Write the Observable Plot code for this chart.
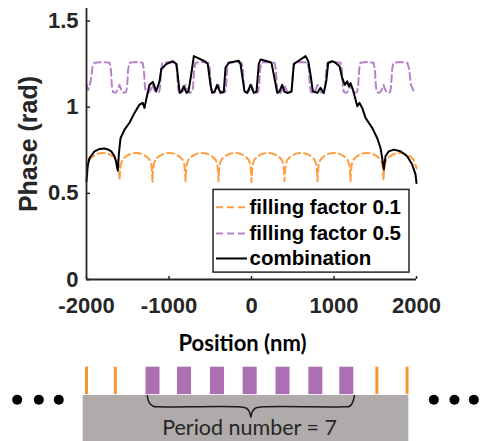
<!DOCTYPE html>
<html><head><meta charset="utf-8">
<script src="https://cdn.jsdelivr.net/npm/d3@7"></script>
<script src="https://cdn.jsdelivr.net/npm/@observablehq/plot@0.6"></script>
<style>
body{margin:0;background:#fff;}
#chart{width:482px;height:441px;overflow:hidden;}
#chart svg{display:block;}
</style></head><body><div id="chart"></div>
<script>
// ---------- data (position in nm, phase in rad) ----------
const fillingFactor01 = [
[-2000,0.63],[-1985,0.67],[-1965,0.695],[-1940,0.708],[-1900,0.722],[-1850,0.732],[-1800,0.735],[-1750,0.732],[-1700,0.722],[-1660,0.708],[-1635,0.695],[-1615,0.67],[-1605,0.62],
[-1600,0.575],[-1595,0.62],[-1585,0.67],[-1565,0.695],[-1540,0.708],[-1500,0.722],[-1450,0.732],[-1400,0.735],[-1350,0.732],[-1300,0.722],[-1260,0.708],[-1235,0.695],[-1215,0.67],[-1205,0.62],
[-1200,0.565],[-1195,0.62],[-1185,0.67],[-1165,0.695],[-1140,0.708],[-1100,0.722],[-1050,0.732],[-1000,0.735],[-950,0.732],[-900,0.722],[-860,0.708],[-835,0.695],[-815,0.67],[-805,0.62],
[-800,0.57],[-795,0.62],[-785,0.67],[-765,0.695],[-740,0.708],[-700,0.722],[-650,0.732],[-600,0.735],[-550,0.732],[-500,0.722],[-460,0.708],[-435,0.695],[-415,0.67],[-405,0.62],
[-400,0.57],[-395,0.62],[-385,0.67],[-365,0.695],[-340,0.708],[-300,0.722],[-250,0.732],[-200,0.735],[-150,0.732],[-100,0.722],[-60,0.708],[-35,0.695],[-15,0.67],[-5,0.62],
[0,0.565],[5,0.62],[15,0.67],[35,0.695],[60,0.708],[100,0.722],[150,0.732],[200,0.735],[250,0.732],[300,0.722],[340,0.708],[365,0.695],[385,0.67],[395,0.62],
[400,0.57],[405,0.62],[415,0.67],[435,0.695],[460,0.708],[500,0.722],[550,0.732],[600,0.735],[650,0.732],[700,0.722],[740,0.708],[765,0.695],[785,0.67],[795,0.62],
[800,0.57],[805,0.62],[815,0.67],[835,0.695],[860,0.708],[900,0.722],[950,0.732],[1000,0.735],[1050,0.732],[1100,0.722],[1140,0.708],[1165,0.695],[1185,0.67],[1195,0.62],
[1200,0.57],[1205,0.62],[1215,0.67],[1235,0.695],[1260,0.708],[1300,0.722],[1350,0.732],[1400,0.735],[1450,0.732],[1500,0.722],[1540,0.708],[1565,0.695],[1585,0.67],[1595,0.62],
[1600,0.575],[1605,0.62],[1615,0.67],[1635,0.695],[1660,0.708],[1700,0.722],[1750,0.732],[1800,0.735],[1850,0.732],[1900,0.722],[1940,0.708],[1965,0.695],[1985,0.67],[2000,0.645]
];

const fillingFactor05 = [
[-2000,1.13],[-1978,1.10],[-1950,1.15],[-1925,1.24],[-1905,1.258],[-1800,1.262],[-1720,1.258],[-1705,1.22],[-1692,1.12],[-1680,1.088],[-1650,1.083],[-1622,1.10],
[-1600,1.13],[-1578,1.10],[-1550,1.083],[-1520,1.088],[-1508,1.12],[-1495,1.22],[-1480,1.258],[-1400,1.262],[-1320,1.258],[-1305,1.22],[-1292,1.12],[-1280,1.088],[-1250,1.083],[-1222,1.10],
[-1200,1.13],[-1178,1.10],[-1150,1.083],[-1120,1.088],[-1108,1.12],[-1095,1.22],[-1080,1.258],[-1000,1.262],[-920,1.258],[-905,1.22],[-892,1.12],[-880,1.088],[-850,1.083],[-822,1.10],
[-800,1.13],[-778,1.10],[-750,1.083],[-720,1.088],[-708,1.12],[-695,1.22],[-680,1.258],[-600,1.262],[-520,1.258],[-505,1.22],[-492,1.12],[-480,1.088],[-450,1.083],[-422,1.10],
[-400,1.13],[-378,1.10],[-350,1.083],[-320,1.088],[-308,1.12],[-295,1.22],[-280,1.258],[-200,1.262],[-120,1.258],[-105,1.22],[-92,1.12],[-80,1.088],[-50,1.083],[-22,1.10],
[0,1.13],[22,1.10],[50,1.083],[80,1.088],[92,1.12],[105,1.22],[120,1.258],[200,1.262],[280,1.258],[295,1.22],[308,1.12],[320,1.088],[350,1.083],[378,1.10],
[400,1.13],[422,1.10],[450,1.083],[480,1.088],[492,1.12],[505,1.22],[520,1.258],[600,1.262],[680,1.258],[695,1.22],[708,1.12],[720,1.088],[750,1.083],[778,1.10],
[800,1.13],[822,1.10],[850,1.083],[880,1.088],[892,1.12],[905,1.22],[920,1.258],[1000,1.262],[1080,1.258],[1095,1.22],[1108,1.12],[1120,1.088],[1150,1.083],[1178,1.10],
[1200,1.13],[1222,1.10],[1250,1.083],[1280,1.088],[1292,1.12],[1305,1.22],[1320,1.258],[1400,1.262],[1480,1.258],[1495,1.22],[1508,1.12],[1520,1.088],[1550,1.083],[1578,1.10],
[1600,1.13],[1622,1.10],[1650,1.083],[1680,1.088],[1692,1.12],[1705,1.22],[1720,1.258],[1800,1.262],[1890,1.258],[1912,1.22],[1932,1.13],[1958,1.10],[2000,1.085]
];

const combination = [
[-2000,0.57],[-1985,0.66],[-1964,0.705],[-1903,0.744],[-1840,0.758],[-1782,0.76],[-1740,0.755],[-1700,0.744],[-1661,0.715],[-1640,0.68],[-1628,0.647],[-1620,0.632],
[-1608,0.727],[-1588,0.82],[-1539,0.87],[-1479,0.91],[-1418,0.967],[-1358,1.015],[-1318,1.025],[-1297,0.996],[-1276,1.045],[-1236,1.13],[-1196,1.147],[-1155,1.093],
[-1115,1.15],[-1094,1.22],[-1034,1.25],[-954,1.267],[-909,1.25],[-881,1.13],[-869,1.083],[-848,1.09],[-821,1.122],[-788,1.083],[-764,1.09],[-731,1.19],
[-699,1.297],[-658,1.288],[-558,1.264],[-530,1.25],[-497,1.13],[-476,1.083],[-448,1.09],[-416,1.13],[-376,1.083],[-336,1.09],[-315,1.23],[-275,1.258],
[-154,1.27],[-133,1.25],[-85,1.093],[-52,1.083],[-12,1.13],[28,1.083],[61,1.09],[88,1.25],[109,1.277],[210,1.264],[242,1.258],[270,1.19],
[312,1.083],[339,1.09],[372,1.13],[400,1.09],[433,1.083],[485,1.09],[513,1.25],[554,1.264],[655,1.297],[688,1.267],[715,1.19],[743,1.093],
[797,1.083],[836,1.113],[876,1.083],[906,1.15],[930,1.258],[978,1.267],[1018,1.258],[1067,1.238],[1099,1.17],[1131,1.13],[1160,1.15],[1182,1.12],
[1200,1.14],[1224,1.11],[1261,1.045],[1282,1.006],[1309,1.025],[1342,0.996],[1382,0.938],[1463,0.88],[1524,0.82],[1564,0.763],[1584,0.705],[1604,0.638],
[1624,0.715],[1664,0.744],[1725,0.754],[1806,0.744],[1887,0.715],[1948,0.667],[1988,0.61],[2000,0.56]
];

const xTicks = [-2000, -1000, 0, 1000, 2000];
const yTicks = [0, 0.5, 1, 1.5];
const seriesNames = ["filling factor 0.1", "filling factor 0.5", "combination"];
const xLabel = "Position (nm)";
const yLabel = "Phase (rad)";

// schematic of the grating (positions in nm along the same axis)
const orangeBarPos = [-2000, -1650, 1520, 1885];
const purpleBarPos = [-1194, -812, -412, -16, 382, 780, 1155];
const ellipsisDotPos = [-2840, -2578, -2336, 2210, 2460, 2695];
const substrateSpan = [-2040, 1907];
const braceX = [-1264, -1240, -1190, -1130, -160, -60, -22, -8, 6, 44, 144, 1130, 1190, 1225, 1248];
const braceY = [0, -0.25, -0.38, -0.40, -0.40, -0.45, -0.6, -0.77, -0.6, -0.45, -0.40, -0.40, -0.38, -0.25, 0];
const schematicLabel = "Period number = 7";

// ---------- styles ----------
const colors = ["#FF9D42", "#B583CB", "#000000"];
const dashes = ["7,4", "7,4", null];
const axisColor = "#262626";
const boldFont = "'Liberation Sans', Arial, sans-serif";
const calibriLike = "Lato, 'Open Sans', sans-serif";

const W = 482;
const xDomain = [-2000, 2000];
const mL = 86, mR = 66;

const series = [fillingFactor01, fillingFactor05, combination];

// legend layout (in data units)
const legend = {x1: -460, x2: 1915, y1: 0.04, y2: 0.52, rows: [0.42, 0.267, 0.122], s1: -424, s2: -48, tx: -24};

const main = Plot.plot({
  width: W, height: 360,
  marginLeft: mL, marginRight: mR, marginTop: 8, marginBottom: 81,
  style: {fontFamily: boldFont, fontWeight: "bold", background: "white"},
  x: {domain: xDomain, label: null},
  y: {domain: [0, 1.573], label: null},
  marks: [
    Plot.axisX({ticks: xTicks, tickSize: -3, tickPadding: 21, tickFormat: d => String(d), fontSize: 22, color: axisColor, strokeWidth: 1.5, label: null}),
    Plot.axisY({ticks: yTicks, tickSize: -4, tickPadding: 12, tickFormat: d => String(d), fontSize: 22, color: axisColor, strokeWidth: 1.5, label: null}),
    ...series.map((s, i) => Plot.line(s, {x: d => d[0], y: d => d[1], stroke: colors[i], strokeWidth: 2, strokeDasharray: dashes[i] ?? undefined})),
    Plot.ruleX([xDomain[0]], {stroke: axisColor, strokeWidth: 1.8}),
    Plot.ruleY([0], {stroke: axisColor, strokeWidth: 1.8}),
    Plot.rect([0], {x1: () => legend.x1, x2: () => legend.x2, y1: () => legend.y1, y2: () => legend.y2, fill: "white", stroke: axisColor, strokeWidth: 1.5}),
    ...seriesNames.map((n, i) => Plot.ruleY([legend.rows[i]], {x1: () => legend.s1, x2: () => legend.s2, stroke: colors[i], strokeWidth: 2, strokeDasharray: dashes[i] ?? undefined})),
    Plot.text(seriesNames, {x: () => legend.tx, y: (d, i) => legend.rows[i], text: d => d, textAnchor: "start", fontSize: 20.5, fontWeight: "bold", fill: "#000"}),
    Plot.text([yLabel], {frameAnchor: "left", textAnchor: "middle", lineAnchor: "middle", dx: -58, rotate: -90, fontSize: 25, fontWeight: "bold", fill: axisColor}),
    Plot.text([xLabel], {frameAnchor: "bottom", textAnchor: "middle", lineAnchor: "middle", dx: -9, dy: 64, fontFamily: calibriLike, fontSize: 22, fontWeight: "bold", fill: "#000"})
  ]
});

const schematic = Plot.plot({
  width: W, height: 81,
  marginLeft: mL, marginRight: mR, marginTop: 0, marginBottom: 0,
  x: {domain: xDomain, axis: null},
  y: {domain: [-1.625, 1.237], axis: null},
  marks: [
    Plot.rect([0], {x1: () => substrateSpan[0], x2: () => substrateSpan[1], y1: () => -1.625, y2: () => 0, fill: "#AFABAB"}),
    Plot.rect(purpleBarPos, {x1: d => d - 85, x2: d => d + 85, y1: () => 0.03, y2: () => 1, fill: "#AC6FB4"}),
    Plot.ruleX(orangeBarPos, {y1: () => 0.03, y2: () => 1, stroke: "#F79533", strokeWidth: 3}),
    Plot.dot(ellipsisDotPos, {x: d => d, y: () => -0.15, r: 5, fill: "#000", stroke: null}),
    Plot.line(braceX.map((x, i) => [x, braceY[i]]), {x: d => d[0], y: d => d[1], curve: "catmull-rom", stroke: "#1a1a1a", strokeWidth: 1.5}),
    Plot.text([schematicLabel], {x: () => -24, y: () => -1.16, fontFamily: calibriLike, fontSize: 21.5, fill: "#262626"})
  ]
});

const c = document.getElementById("chart");
c.appendChild(main);
c.appendChild(schematic);
</script></body></html>
